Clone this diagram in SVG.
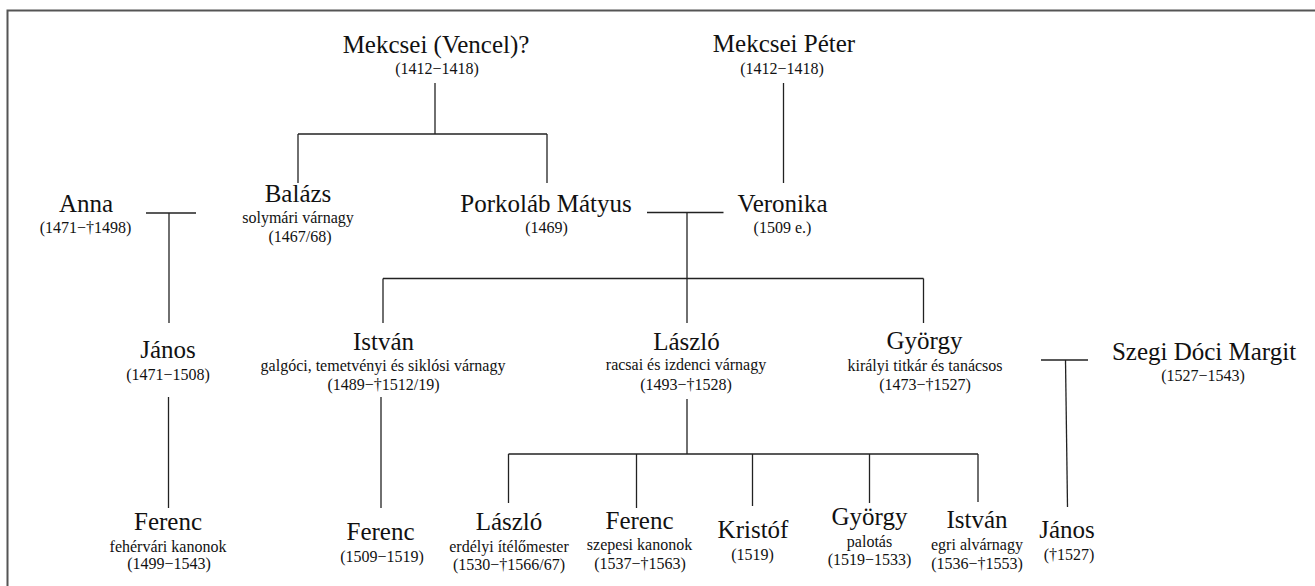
<svg xmlns="http://www.w3.org/2000/svg" width="1315" height="586" viewBox="0 0 1315 586">
<style>
text{font-family:"Liberation Serif","Times New Roman",serif;fill:#111;text-anchor:middle}
.n{font-size:25px}
.s{font-size:16px}
.c line{stroke:#222;stroke-width:1.3;fill:none}
.f{stroke:#555;stroke-width:2;fill:none}
</style>
<rect width="1315" height="586" fill="#fff"/>
<path class="f" d="M7.5,586 V10.5 H1315"/>
<g class="c" id="connectors">
<line x1="435" y1="83" x2="435" y2="134"/>
<line x1="298" y1="134" x2="547" y2="134"/>
<line x1="298" y1="134" x2="298" y2="183"/>
<line x1="547" y1="134" x2="547" y2="183"/>
<line x1="783.5" y1="83" x2="783.5" y2="183"/>
<line x1="146" y1="213" x2="196" y2="213"/>
<line x1="169" y1="213" x2="169" y2="323"/>
<line x1="168.5" y1="397" x2="168.5" y2="508"/>
<line x1="647" y1="212.5" x2="723.5" y2="212.5"/>
<line x1="687" y1="212.5" x2="687" y2="278.5"/>
<line x1="383" y1="278.5" x2="923.5" y2="278.5"/>
<line x1="383" y1="278.5" x2="383" y2="323"/>
<line x1="687" y1="278.5" x2="687" y2="323"/>
<line x1="923.5" y1="278.5" x2="923.5" y2="323"/>
<line x1="381" y1="397" x2="381" y2="508"/>
<line x1="687" y1="399" x2="687" y2="454"/>
<line x1="508.5" y1="454" x2="978" y2="454"/>
<line x1="508.5" y1="454" x2="508.5" y2="503"/>
<line x1="636.5" y1="454" x2="636.5" y2="508"/>
<line x1="752.5" y1="454" x2="752.5" y2="506"/>
<line x1="869.5" y1="454" x2="869.5" y2="503"/>
<line x1="978" y1="454" x2="978" y2="502"/>
<line x1="1041" y1="360" x2="1088" y2="360"/>
<line x1="1065.5" y1="360" x2="1067.5" y2="507"/>
</g>
<g id="mekcsei-vencel"><text class="n" x="436" y="53">Mekcsei (Vencel)?</text><text class="s" x="437" y="74">(1412−1418)</text></g>
<g id="mekcsei-peter"><text class="n" x="784" y="52">Mekcsei Péter</text><text class="s" x="782" y="74">(1412−1418)</text></g>
<g id="anna"><text class="n" x="86" y="212">Anna</text><text class="s" x="85.5" y="233">(1471−†1498)</text></g>
<g id="balazs"><text class="n" x="298" y="202">Balázs</text><text class="s" x="298" y="223">solymári várnagy</text><text class="s" x="300" y="241.5">(1467/68)</text></g>
<g id="porkolab"><text class="n" x="546" y="212">Porkoláb Mátyus</text><text class="s" x="546.5" y="233">(1469)</text></g>
<g id="veronika"><text class="n" x="782.5" y="212">Veronika</text><text class="s" x="782.5" y="233">(1509 e.)</text></g>
<g id="janos1"><text class="n" x="168" y="358">János</text><text class="s" x="168" y="380">(1471−1508)</text></g>
<g id="istvan1"><text class="n" x="383.5" y="350">István</text><text class="s" x="383" y="370.5">galgóci, temetvényi és siklósi várnagy</text><text class="s" x="383.5" y="390">(1489−†1512/19)</text></g>
<g id="laszlo1"><text class="n" x="686.5" y="350">László</text><text class="s" x="686" y="370">racsai és izdenci várnagy</text><text class="s" x="686" y="390">(1493−†1528)</text></g>
<g id="gyorgy1"><text class="n" x="924.5" y="349">György</text><text class="s" x="925" y="371">királyi titkár és tanácsos</text><text class="s" x="925" y="390">(1473−†1527)</text></g>
<g id="szegi"><text class="n" x="1204" y="360">Szegi Dóci Margit</text><text class="s" x="1203" y="380.5">(1527−1543)</text></g>
<g id="ferenc1"><text class="n" x="168" y="530">Ferenc</text><text class="s" x="168" y="551.5">fehérvári kanonok</text><text class="s" x="169" y="569">(1499−1543)</text></g>
<g id="ferenc2"><text class="n" x="380.5" y="540">Ferenc</text><text class="s" x="382" y="561.5">(1509−1519)</text></g>
<g id="laszlo2"><text class="n" x="509" y="530">László</text><text class="s" x="509" y="551.5">erdélyi ítélőmester</text><text class="s" x="509" y="570">(1530−†1566/67)</text></g>
<g id="ferenc3"><text class="n" x="639.5" y="528.5">Ferenc</text><text class="s" x="639.5" y="550">szepesi kanonok</text><text class="s" x="640" y="568.5">(1537−†1563)</text></g>
<g id="kristof"><text class="n" x="753" y="538">Kristóf</text><text class="s" x="752.5" y="560">(1519)</text></g>
<g id="gyorgy2"><text class="n" x="869.5" y="525">György</text><text class="s" x="869.5" y="546.5">palotás</text><text class="s" x="869.5" y="565">(1519−1533)</text></g>
<g id="istvan2"><text class="n" x="977" y="528">István</text><text class="s" x="977" y="550">egri alvárnagy</text><text class="s" x="977" y="569">(1536−†1553)</text></g>
<g id="janos2"><text class="n" x="1067" y="538">János</text><text class="s" x="1069" y="560">(†1527)</text></g>
</svg>
